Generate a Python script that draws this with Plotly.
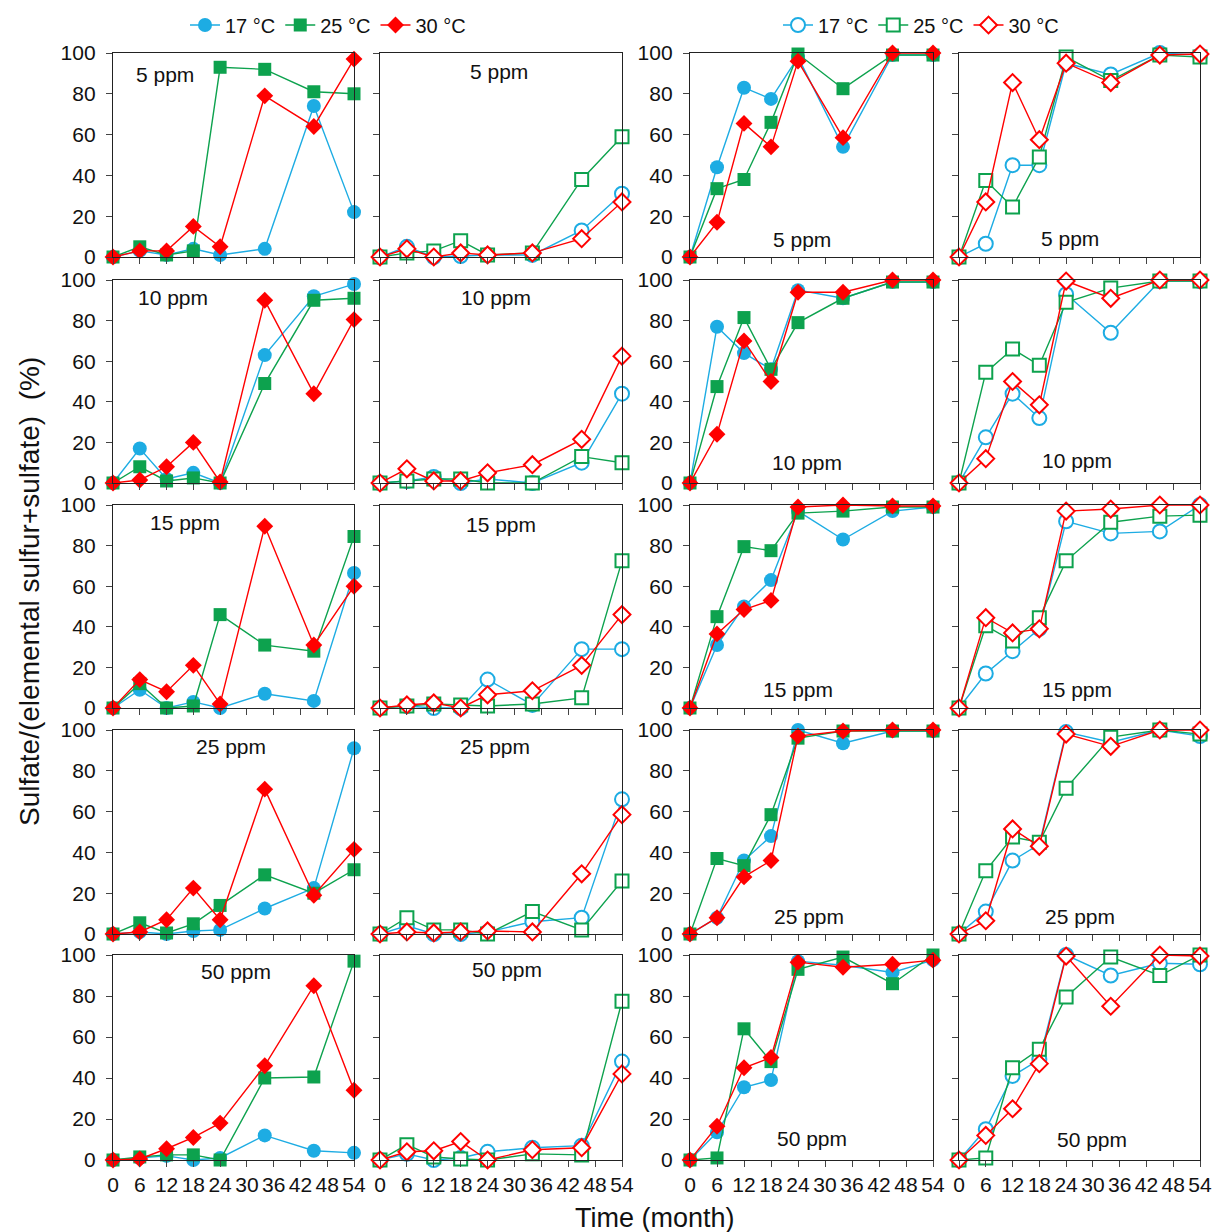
import plotly.graph_objects as go

# Sampling times (months) and panel labels
months = [0, 6, 12, 18, 24, 34, 45, 54]
temps = ["17 °C", "25 °C", "30 °C"]
concentrations = ["5 ppm", "10 ppm", "15 ppm", "25 ppm", "50 ppm"]
y_ticks = [0, 20, 40, 60, 80, 100]
x_ticks = [0, 6, 12, 18, 24, 30, 36, 42, 48, 54]

# Column 1 (filled markers): one row per concentration
a_17 = [[0, 3, 1, 4, 1, 4, 74, 22],
        [0, 17, 2, 5, 0, 63, 92, 98],
        [0, 9, 0, 3, 0, 7, 3.5, 66.5],
        [0, 1, 0, 1.5, 2, 12.5, 22.5, 91],
        [0, 1, 2, 0, 1, 12, 4.5, 3.5]]
a_25 = [[0, 5, 1, 3, 93, 92, 81, 80],
        [0, 8, 1, 2.5, 0, 49, 90, 91],
        [0, 12, 0, 1, 46, 31, 28, 84.5],
        [0, 5.5, 0.5, 5, 14, 29, 20, 31.5],
        [0, 1.5, 2.5, 2.5, 0, 40, 40.5, 97]]
a_30 = [[0, 3, 3, 15, 5, 79, 64, 97],
        [0, 1.5, 8, 20, 0.5, 90, 44, 80.5],
        [0, 14, 8, 21, 2, 89.5, 31, 60],
        [0, 1, 7, 22.5, 7, 71, 19, 41.5],
        [0, 0.5, 5.5, 11, 18, 46, 85, 34]]

# Column 2 (open markers)
b_17 = [[0, 5, 0, 0.5, 1, 1, 13, 31],
        [0, 1, 3, 0, 2, 0, 10, 44],
        [0, 1, 0, 0, 14, 1.5, 29, 29],
        [0, 4, 0, 0, 1, 6, 8, 66],
        [0, 3, 0, 1, 4, 6, 7, 48]]
b_25 = [[0, 2, 3, 8, 1, 2, 38, 59],
        [0, 1, 2, 2, 0, 0, 13, 10],
        [0, 1, 2, 1.5, 1, 2, 5, 72.5],
        [0, 8, 2, 2, 0, 11, 2, 26],
        [0, 7.5, 1.5, 0.5, 0, 3, 2.5, 77.5]]
b_30 = [[0, 4, 0, 2, 1, 2, 9, 27],
        [0, 7, 1, 1, 5, 9, 21.5, 62.5],
        [0, 1.5, 2.5, 0, 6.5, 8.5, 21, 46],
        [0, 1, 0.5, 1, 1.5, 1, 29.5, 58.5],
        [0, 4, 4.5, 9, 0, 5, 6, 42]]

# Column 3 (filled markers)
c_17 = [[0, 44, 83, 77.5, 98, 54, 99, 99],
        [0, 77, 64, 56, 95, 91, 99, 99],
        [0, 31, 50, 63, 97, 83, 97, 99],
        [0, 8, 36, 48, 100, 93.5, 99.5, 99.5],
        [0, 13.5, 35.5, 39, 97, 95, 91.5, 97.5]]
c_25 = [[0, 33.5, 38, 66, 99.5, 82.5, 99, 99],
        [0, 47.5, 81.5, 56, 79, 91, 99, 99],
        [0, 45, 79.5, 77.5, 96, 97, 99, 99],
        [0, 37, 33.5, 58.5, 96, 99.5, 99.5, 99.5],
        [0, 1, 64, 48, 93, 99, 86, 100]]
c_30 = [[0, 17, 65.5, 54, 96, 58.5, 100, 100],
        [0, 24, 70, 50, 94, 94, 100, 100],
        [0, 36.5, 48.5, 53, 99, 100, 99.5, 99.5],
        [0, 8, 28, 36, 97, 99.5, 100, 100],
        [0, 16.5, 45, 50, 96.5, 94, 95.5, 97.5]]

# Column 4 (open markers)
d_17 = [[0, 6.5, 45, 45, 95, 89.5, 100, 99],
        [0, 22.5, 44, 32, 93, 74, 99.5, 99.5],
        [0, 17, 28, 39, 92, 86, 87, 100],
        [0, 11, 36, 44, 99, 94, 100, 97],
        [0, 15, 41, 49, 100, 90, 96, 95.5]]
d_25 = [[0, 37.5, 24.5, 49, 98, 86.5, 99, 98],
        [0, 54.5, 66, 58, 89, 96, 99.5, 99.5],
        [0, 40.5, 33, 44.5, 72.5, 91.5, 94.5, 95],
        [0, 31, 47.5, 45, 71.5, 96.5, 100, 98],
        [0, 1, 45, 54, 79.5, 99, 90, 100]]
d_30 = [[0, 27, 85.5, 57.5, 95, 85.5, 99, 99.5],
        [0, 12, 50, 38.5, 99.5, 91, 100, 100],
        [0, 44.5, 37, 39, 97, 98, 100, 100],
        [0, 6.5, 51.5, 43, 98, 92, 100, 100],
        [0, 12, 25, 47, 99.5, 75, 100, 99.5]]

columns = [(a_17, a_25, a_30), (b_17, b_25, b_30),
           (c_17, c_25, c_30), (d_17, d_25, d_30)]
open_column = [False, True, False, True]

colors = ["#1DACE3", "#0DA24E", "#FF0000"]
symbols = ["circle", "square", "diamond"]
sizes = [14, 13, 13]

FONT = "Liberation Sans, Arial, sans-serif"
W, H = 1220, 1232

# Panel placement in pixels
col_px = [(113, 354), (380, 622), (690, 933), (959, 1200)]
row_px = [(53, 257), (280, 483), (505, 708), (730, 934), (955, 1160)]

# Concentration label placement inside each panel (domain fractions)
label_pos = [
    [(0.215, 0.895), (0.25, 0.915), (0.30, 0.915), (0.49, 0.92), (0.51, 0.92)],
    [(0.49, 0.91), (0.48, 0.915), (0.50, 0.905), (0.475, 0.92), (0.525, 0.93)],
    [(0.46, 0.085), (0.48, 0.10), (0.445, 0.093), (0.49, 0.088), (0.50, 0.105)],
    [(0.46, 0.093), (0.49, 0.11), (0.49, 0.093), (0.50, 0.088), (0.55, 0.098)],
]

fig = go.Figure()
layout = {}
annotations = []

for r in range(5):
    for c in range(4):
        idx = r * 4 + c + 1
        xname = "xaxis" if idx == 1 else f"xaxis{idx}"
        yname = "yaxis" if idx == 1 else f"yaxis{idx}"
        xref = "x" if idx == 1 else f"x{idx}"
        yref = "y" if idx == 1 else f"y{idx}"
        l, rr = col_px[c]
        t, b = row_px[r]
        common = dict(showline=True, linecolor="#222222", linewidth=1.3,
                      mirror=True, ticks="outside", ticklen=6, tickwidth=1.2,
                      tickcolor="#444444", showgrid=False, zeroline=False,
                      automargin=False,
                      tickfont=dict(family=FONT, size=21, color="#111111"))
        layout[xname] = dict(domain=[l / W, rr / W], anchor=yref,
                             range=[0, 54], tickvals=x_ticks, tickangle=0,
                             showticklabels=(r == 4), **common)
        layout[yname] = dict(domain=[1 - b / H, 1 - t / H], anchor=xref,
                             range=[0, 100], tickvals=y_ticks,
                             ticklabelstandoff=6,
                             showticklabels=(c in (0, 2)), **common)

        is_open = open_column[c]
        for k in range(3):
            vals = columns[c][k][r]
            if is_open:
                marker = dict(symbol=symbols[k], size=sizes[k], color="white",
                              line=dict(color=colors[k], width=2))
            else:
                marker = dict(symbol=symbols[k], size=sizes[k], color=colors[k],
                              line=dict(width=0))
            show = (r == 0 and c in (0, 1))
            fig.add_trace(go.Scatter(
                x=months, y=vals, mode="lines+markers",
                xaxis=xref, yaxis=yref, name=temps[k],
                line=dict(color=colors[k], width=1.4),
                marker=marker, cliponaxis=False,
                showlegend=show,
                legend="legend2" if is_open else "legend",
            ))

        lx, ly = label_pos[c][r]
        annotations.append(dict(
            text=concentrations[r], x=lx, y=ly,
            xref=f"{xref} domain", yref=f"{yref} domain",
            showarrow=False, xanchor="center", yanchor="middle",
            font=dict(family=FONT, size=21, color="#111111")))

annotations.append(dict(
    text="Time (month)", x=655 / W, y=1 - 1218 / H, xref="paper", yref="paper",
    showarrow=False, xanchor="center", yanchor="middle",
    font=dict(family=FONT, size=27, color="#111111")))
annotations.append(dict(
    text="Sulfate/(elemental sulfur+sulfate)  (%)", x=29 / W, y=1 - 592 / H,
    xref="paper", yref="paper", textangle=-90,
    showarrow=False, xanchor="center", yanchor="middle",
    font=dict(family=FONT, size=28, color="#111111")))

legend_common = dict(orientation="h", xanchor="center", yanchor="middle",
                     bgcolor="rgba(0,0,0,0)", itemwidth=30,
                     font=dict(family=FONT, size=20, color="#111111"))

fig.update_layout(
    width=W, height=H,
    margin=dict(l=0, r=0, t=0, b=0, autoexpand=False),
    paper_bgcolor="white", plot_bgcolor="white",
    annotations=annotations,
    legend=dict(x=328 / W, y=1 - 25 / H, **legend_common),
    legend2=dict(x=921 / W, y=1 - 25 / H, **legend_common),
    **layout,
)

fig.write_html("out.html")
